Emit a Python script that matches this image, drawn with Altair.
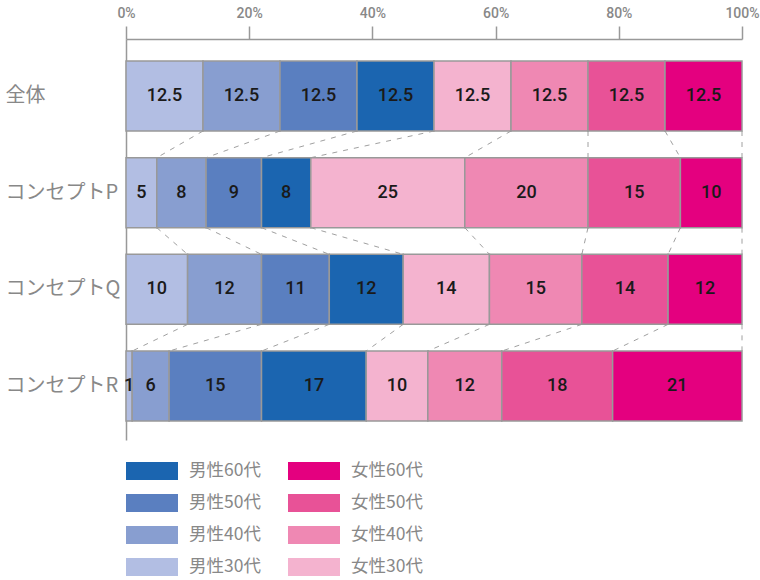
import altair as alt
import pandas as pd

rows = ["全体", "コンセプトP", "コンセプトQ", "コンセプトR"]
segments = ["男性30代", "男性40代", "男性50代", "男性60代",
            "女性30代", "女性40代", "女性50代", "女性60代"]
colors = ["#b2bee3", "#889ed0", "#5a7fc0", "#1b65b0",
          "#f4b3cf", "#ef88b3", "#e85297", "#e4007f"]
values = {
    "全体": [12.5, 12.5, 12.5, 12.5, 12.5, 12.5, 12.5, 12.5],
    "コンセプトP": [5, 8, 9, 8, 25, 20, 15, 10],
    "コンセプトQ": [10, 12, 11, 12, 14, 15, 14, 12],
    "コンセプトR": [1, 6, 15, 17, 10, 12, 18, 21],
}
labels = {
    "全体": ["12.5"] * 8,
    "コンセプトP": ["5", "8", "9", "8", "25", "20", "15", "10"],
    "コンセプトQ": ["10", "12", "11", "12", "14", "15", "14", "12"],
    "コンセプトR": ["1", "6", "15", "17", "10", "12", "18", "21"],
}
legend_cols = [["男性60代", "男性50代", "男性40代", "男性30代"],
               ["女性60代", "女性50代", "女性40代", "女性30代"]]
tick_values = [0, 20, 40, 60, 80, 100]

NUM_FONT = "Roboto, sans-serif"
JP_FONT = "Noto Sans CJK JP, Noto Sans, sans-serif"
GRAY = "#999999"
TEXT_GRAY = "#888888"

# stacked segments
recs = []
cum_by_row = {}
for r in rows:
    c = 0.0
    cums = []
    for i, (s, v) in enumerate(zip(segments, values[r])):
        recs.append({"row": r, "seg": s, "idx": i, "x0": c, "x1": c + v,
                     "mid": c + v / 2, "label": labels[r][i]})
        c += v
        cums.append(c)
    cum_by_row[r] = cums
df = pd.DataFrame(recs)

# connectors between consecutive rows
conn = []
for a, b in zip(rows[:-1], rows[1:]):
    for ca, cb in zip(cum_by_row[a], cum_by_row[b]):
        conn.append({"row_from": a, "row_to": b, "xa": ca, "xb": cb})
df_conn = pd.DataFrame(conn)

xscale = alt.Scale(domain=[0, 100], nice=False, zero=True)
yscale = alt.Scale(domain=rows, paddingInner=0.276, paddingOuter=0.212, align=0.537)

xaxis = alt.Axis(orient="top", values=tick_values, labelExpr="datum.value + '%'",
                 tickSize=13, tickColor=GRAY, tickWidth=1.5,
                 domainColor=GRAY, domainWidth=1.5, grid=False, title=None,
                 labelColor=TEXT_GRAY, labelFont=NUM_FONT, labelFontSize=14,
                 labelFontWeight=500, labelPadding=6, labelFlush=False)
yaxis = alt.Axis(title=None, ticks=False, tickSize=0, domain=True, domainColor=GRAY,
                 domainWidth=1.5, labelAlign="left", labelPadding=121,
                 labelFont=JP_FONT, labelFontSize=20, labelColor=TEXT_GRAY)

base = alt.Chart(df)
bars = base.mark_rect(stroke=GRAY, strokeWidth=1.5).encode(
    x=alt.X("x0:Q", scale=xscale, axis=xaxis),
    x2="x1:Q",
    y=alt.Y("row:N", scale=yscale, axis=yaxis, sort=rows),
    color=alt.Color("seg:N", scale=alt.Scale(domain=segments, range=colors), legend=None),
)
texts = base.mark_text(font=NUM_FONT, fontSize=18, fontWeight=500, color="#1a1a1a",
                       baseline="middle", align="center").encode(
    x=alt.X("mid:Q", scale=xscale),
    y=alt.Y("row:N", scale=yscale, sort=rows),
    text="label:N",
)
connectors = alt.Chart(df_conn).mark_rule(color="#a0a0a0", strokeWidth=1,
                                          strokeDash=[5, 6]).encode(
    x=alt.X("xa:Q", scale=xscale),
    x2="xb:Q",
    y=alt.Y("row_from:N", scale=yscale, sort=rows, bandPosition=1),
    y2=alt.Y2("row_to:N", bandPosition=0),
)
main = alt.layer(connectors, bars, texts).properties(width=616, height=401)

# legend
leg = []
for ci, col in enumerate(legend_cols):
    for ri, s in enumerate(col):
        leg.append({"seg": s, "col": ci, "row": ri})
df_leg = pd.DataFrame(leg)
lx = alt.Scale(domain=[-26 / 162, 298 / 162], nice=False, zero=False)
ly = alt.Scale(domain=[-0.5, 3.28125], reverse=True, nice=False, zero=False)
sw = alt.Chart(df_leg).mark_point(shape="M-1,-0.346H1V0.346H-1Z", size=2704,
                                  filled=True, opacity=1, strokeWidth=0).encode(
    x=alt.X("col:Q", scale=lx, axis=None),
    y=alt.Y("row:Q", scale=ly, axis=None),
    color=alt.Color("seg:N", scale=alt.Scale(domain=segments, range=colors), legend=None),
)
lt = alt.Chart(df_leg).mark_text(align="left", baseline="middle", font=JP_FONT,
                                 fontSize=17.5, color=TEXT_GRAY, dx=37).encode(
    x=alt.X("col:Q", scale=lx, axis=None),
    y=alt.Y("row:Q", scale=ly, axis=None),
    text="seg:N",
)
legend = alt.layer(sw, lt).properties(width=324, height=121)

chart = alt.vconcat(main, legend, spacing=15).properties(
    padding={"left": 5, "top": 6, "right": 0, "bottom": 0},
    background="white",
).configure_view(stroke=None)

chart.save("out.html", embed_options={"renderer": "svg", "actions": False})
